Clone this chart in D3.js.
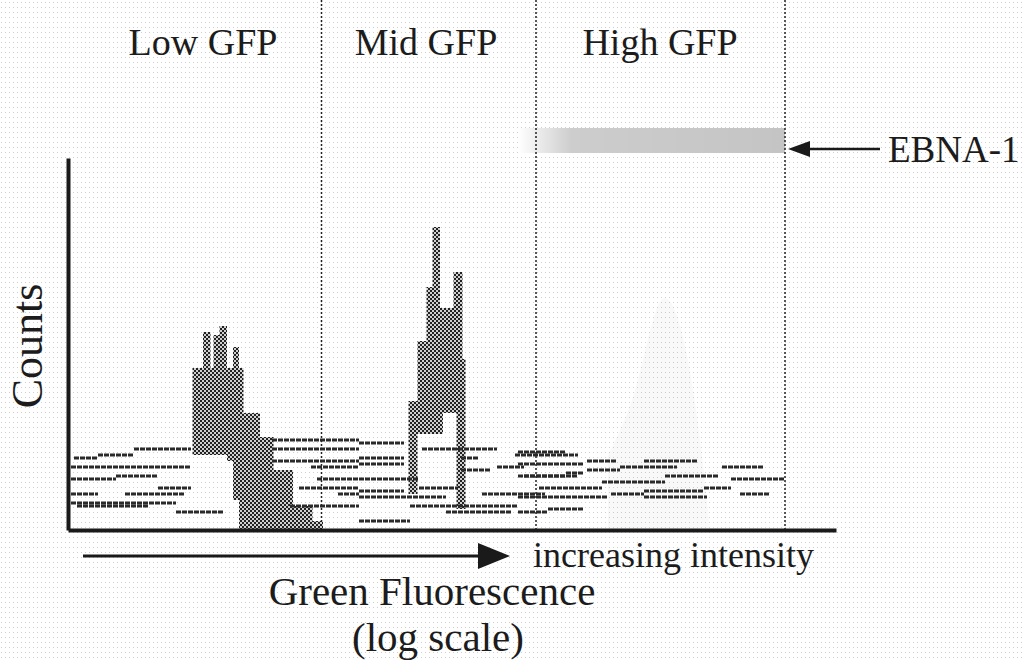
<!DOCTYPE html>
<html>
<head>
<meta charset="utf-8">
<script src="https://cdn.jsdelivr.net/npm/d3@7"></script>
<style>
  body { margin: 0; background: #fff; }
  svg { display: block; }
  text { font-family: "Liberation Serif", "DejaVu Serif", serif; fill: #1c1c1c; }
</style>
</head>
<body>
<div id="chart"></div>
<script>
// gate names and gate boundaries (channels, log scale)
var gateNames = ["Low GFP", "Mid GFP", "High GFP"];
var gateEdges = [84.5, 156, 239];

// low GFP peak: channel, top count, bottom count
var lowChannels = [41.5, 45, 47.5, 48.5, 50.5, 53, 55, 57, 58.5, 64, 68.5, 75, 81.5, 85];
var lowTop      = [54, 66, 54, 65, 68, 54, 61, 54, 39, 31, 20, 8, 3, 0];
var lowBottom   = [25, 25, 25, 25, 25, 23, 10, 0, 0, 0, 0, 0, 0, 0];

// mid GFP peak
var midChannels = [113.5, 116.5, 119.5, 121.5, 124, 125, 128.5, 129.5, 131.5, 132.5];
var midTop      = [43, 63, 81, 101, 74, 74, 86, 86, 57, 0];
var midBottom   = [12, 32, 32, 32, 32, 39, 39, 7, 7, 0];

// faint high GFP trace
var highChannels = [180, 190, 197, 205, 211, 214];
var highTop      = [25, 45, 85, 70, 30, 0];

// noisy background traces: [from channel, to channel, count]
var streaks = [
  [68, 97, 30], [22, 41, 27], [10, 22, 25], [2, 10, 24], [1, 41, 21], [16, 30, 18],
  [1, 16, 17], [30, 41, 14], [1, 10, 12], [19, 39, 12], [1, 36, 9], [36, 52, 6],
  [3, 27, 8], [68, 97, 27], [68, 97, 23], [81, 97, 21], [83, 97, 17], [77, 97, 14],
  [90, 97, 12], [74, 97, 8],
  [97, 112, 29], [118, 143, 27], [149, 170, 25], [97, 112, 24], [131, 137, 24],
  [97, 112, 22], [143, 152, 21], [131, 141, 20], [152, 170, 18], [97, 117, 17],
  [117, 130, 14], [97, 112, 13], [138, 159, 12], [97, 126, 11], [114, 150, 8],
  [126, 148, 6], [97, 114, 3],
  [150, 166, 26], [173, 183, 23], [192, 210, 23], [150, 172, 22], [184, 203, 21],
  [218, 232, 21], [173, 184, 20], [166, 172, 19], [150, 166, 18], [199, 217, 18],
  [221, 239, 17], [178, 199, 16], [169, 178, 14], [157, 169, 14], [212, 221, 14],
  [192, 212, 13], [181, 192, 12], [224, 234, 12], [150, 180, 11], [192, 213, 11],
  [160, 172, 7], [150, 160, 6]
];

var width = 1024, height = 660;

var svg = d3.select("#chart")
  .append("svg")
    .attr("width", width)
    .attr("height", height);

var defs = svg.append("defs");

// faint scan dots over the page
var bg = defs.append("pattern")
    .attr("id", "paper")
    .attr("width", 4).attr("height", 5)
    .attr("patternUnits", "userSpaceOnUse");
bg.append("rect").attr("width", 4).attr("height", 5).attr("fill", "#fff");
bg.append("rect").attr("x", 1).attr("y", 2).attr("width", 1).attr("height", 1).attr("fill", "#cfcfcf");

// dithered grey used for the peaks
var dither = defs.append("pattern")
    .attr("id", "dither")
    .attr("width", 4).attr("height", 4)
    .attr("patternUnits", "userSpaceOnUse");
dither.append("rect").attr("width", 4).attr("height", 4).attr("fill", "#d0d0d0");
dither.append("rect").attr("width", 2).attr("height", 2).attr("fill", "#222");
dither.append("rect").attr("x", 2).attr("y", 2).attr("width", 2).attr("height", 2).attr("fill", "#222");

var grad = defs.append("linearGradient")
    .attr("id", "band")
    .attr("x1", "0%").attr("x2", "100%");
grad.append("stop").attr("offset", "0%").attr("stop-color", "#fff");
grad.append("stop").attr("offset", "20%").attr("stop-color", "#cdcdcd");
grad.append("stop").attr("offset", "100%").attr("stop-color", "#c4c4c4");

svg.append("rect")
    .attr("width", width).attr("height", height)
    .attr("fill", "url(#paper)");

// scales
var x = d3.scaleLinear().domain([0, 256]).range([68, 836]);
var y = d3.scaleLinear().domain([0, 124]).range([530, 158]);

// EBNA-1 band in the high gate
svg.append("rect")
    .attr("x", x(gateEdges[1] - 6))
    .attr("y", 128)
    .attr("width", x(gateEdges[2]) - x(gateEdges[1] - 6))
    .attr("height", 25)
    .attr("fill", "url(#band)");

// gate separators
svg.append("g")
  .selectAll("line")
  .data(gateEdges)
  .enter()
  .append("line")
    .attr("x1", function(d) { return x(d) })
    .attr("x2", function(d) { return x(d) })
    .attr("y1", 0)
    .attr("y2", y(0))
    .attr("stroke", "#222")
    .attr("stroke-width", 1.5)
    .attr("stroke-dasharray", "2,2");

var area = d3.area()
  .x(function(d) { return x(d.ch) })
  .y0(function(d) { return y(d.bottom) })
  .y1(function(d) { return y(d.top) })
  .curve(d3.curveStepAfter);

var lowData = lowChannels.map(function(c, i) { return { ch: c, top: lowTop[i], bottom: lowBottom[i] } });
var midData = midChannels.map(function(c, i) { return { ch: c, top: midTop[i], bottom: midBottom[i] } });
var highData = highChannels.map(function(c, i) { return { ch: c, top: highTop[i], bottom: 0 } });

svg.append("path")
    .datum(highData)
    .attr("fill", "#000")
    .attr("fill-opacity", 0.025)
    .attr("d", d3.area()
      .x(function(d) { return x(d.ch) })
      .y0(y(0))
      .y1(function(d) { return y(d.top) })
      .curve(d3.curveBasis));

svg.append("path")
    .datum(lowData)
    .attr("fill", "url(#dither)")
    .attr("d", area);

svg.append("path")
    .datum(midData)
    .attr("fill", "url(#dither)")
    .attr("d", area);

// noise traces
svg.append("g")
  .selectAll("line")
  .data(streaks)
  .enter()
  .append("line")
    .attr("x1", function(d) { return x(d[0]) })
    .attr("x2", function(d) { return x(d[1]) })
    .attr("y1", function(d) { return y(d[2]) })
    .attr("y2", function(d) { return y(d[2]) })
    .attr("stroke", "#2a2a2a")
    .attr("stroke-width", 2.8)
    .attr("stroke-dasharray", "5,1");

// axes, no ticks
svg.append("g")
    .attr("transform", "translate(0," + y(0) + ")")
    .call(d3.axisBottom(x).tickValues([]).tickSizeOuter(0));
svg.append("g")
    .attr("transform", "translate(" + x(0) + ",0)")
    .call(d3.axisLeft(y).tickValues([]).tickSizeOuter(0));
svg.selectAll(".domain")
    .attr("stroke", "#1a1a1a")
    .attr("stroke-width", 4);

// gate labels
svg.append("g")
  .selectAll("text")
  .data(gateNames)
  .enter()
  .append("text")
    .attr("x", function(d, i) { return [203, 426, 660][i] })
    .attr("y", 55)
    .attr("text-anchor", "middle")
    .style("font-size", "38px")
    .text(function(d) { return d });

// EBNA-1 pointer
svg.append("line")
    .attr("x1", 806).attr("x2", 880)
    .attr("y1", 149).attr("y2", 149)
    .attr("stroke", "#1a1a1a").attr("stroke-width", 2.5);
svg.append("path")
    .attr("d", "M788,149L810,141L810,157Z")
    .attr("fill", "#1a1a1a");
svg.append("text")
    .attr("x", 888).attr("y", 162)
    .style("font-size", "37px")
    .text("EBNA-1");

// y label
svg.append("text")
    .attr("transform", "translate(42,346) rotate(-90)")
    .attr("text-anchor", "middle")
    .style("font-size", "44px")
    .text("Counts");

// intensity arrow
svg.append("line")
    .attr("x1", 83).attr("x2", 482)
    .attr("y1", 556).attr("y2", 556)
    .attr("stroke", "#1a1a1a").attr("stroke-width", 3);
svg.append("path")
    .attr("d", "M510,556L478,543L478,569Z")
    .attr("fill", "#1a1a1a");
svg.append("text")
    .attr("x", 533).attr("y", 567)
    .style("font-size", "36px")
    .text("increasing intensity");

svg.append("text")
    .attr("x", 432).attr("y", 605)
    .attr("text-anchor", "middle")
    .style("font-size", "41px")
    .text("Green Fluorescence");
svg.append("text")
    .attr("x", 438).attr("y", 651)
    .attr("text-anchor", "middle")
    .style("font-size", "41px")
    .text("(log scale)");
</script>
</body>
</html>
